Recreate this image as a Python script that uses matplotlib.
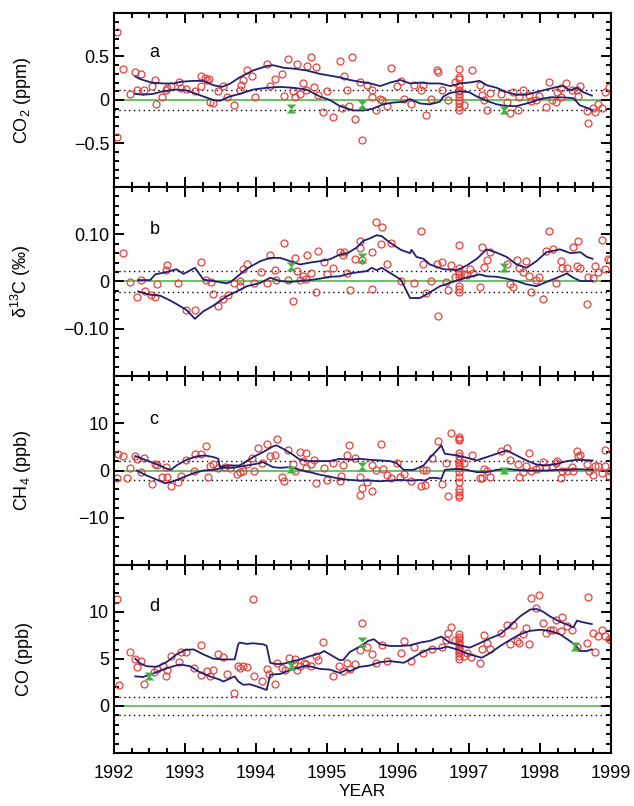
import numpy as np
import matplotlib
matplotlib.use('Agg')
import matplotlib.pyplot as plt
from matplotlib.ticker import MultipleLocator

plt.rcParams['font.family'] = ['Liberation Sans', 'DejaVu Sans']
plt.rcParams['mathtext.fontset'] = 'custom'
plt.rcParams['mathtext.rm'] = 'Liberation Sans'

# ---------------- 数据 ----------------
# 簇状采样点 (1996.86)
clu = 1996.86

# a: CO2 (ppm)
co2_x = [1992.04, 1992.04, 1992.12, 1992.22, 1992.30, 1992.33, 1992.38, 1992.42, 1992.53, 1992.58,
         1992.59, 1992.68, 1992.73, 1992.75, 1992.80, 1992.91, 1992.95, 1993.01, 1993.14, 1993.23,
         1993.23, 1993.28, 1993.31, 1993.34, 1993.35, 1993.40, 1993.47, 1993.54, 1993.59, 1993.69,
         1993.77, 1993.79, 1993.82, 1993.88, 1993.95, 1993.98, 1994.15, 1994.20, 1994.27, 1994.36,
         1994.40, 1994.45, 1994.52, 1994.55, 1994.58, 1994.62, 1994.66, 1994.71, 1994.72, 1994.77,
         1994.82, 1994.85, 1994.87, 1994.95, 1995.00, 1995.08, 1995.18, 1995.21, 1995.24, 1995.28,
         1995.31, 1995.35, 1995.40, 1995.46, 1995.50, 1995.57, 1995.63, 1995.63, 1995.69, 1995.75,
         1995.78, 1995.84, 1995.90, 1995.98, 1996.04, 1996.08, 1996.18, 1996.22, 1996.32, 1996.35,
         1996.40, 1996.47, 1996.55, 1996.56, 1996.62, 1996.70, 1996.80] + [clu] * 12 + [
         1996.93, 1997.04, 1997.15, 1997.18, 1997.21, 1997.26, 1997.29, 1997.45, 1997.53, 1997.58,
         1997.62, 1997.69, 1997.71, 1997.76, 1997.85, 1997.88, 1997.94, 1997.98, 1998.09, 1998.13,
         1998.17, 1998.23, 1998.24, 1998.29, 1998.30, 1998.37, 1998.45, 1998.52, 1998.53, 1998.57,
         1998.66, 1998.68, 1998.74, 1998.78, 1998.82, 1998.88, 1998.92, 1998.97]
co2_y = [0.78, -0.42, 0.36, 0.07, 0.32, 0.12, 0.30, 0.11, 0.16, 0.23,
         -0.05, 0.04, 0.12, 0.14, 0.16, 0.21, 0.14, 0.13, 0.10, 0.28,
         0.16, 0.25, 0.23, 0.24, -0.02, -0.04, 0.10, 0.16, 0.04, -0.06,
         0.12, 0.17, 0.23, 0.35, 0.27, 0.03, 0.41, 0.16, 0.24, 0.30,
         0.05, 0.47, 0.10, 0.04, 0.41, 0.07, 0.20, 0.11, 0.39, 0.49,
         0.15, 0.38, 0.06, -0.14, 0.10, -0.19, 0.45, -0.09, 0.27, 0.11,
         -0.07, 0.49, -0.22, 0.21, -0.46, 0.17, 0.12, 0.04, -0.11, 0.01,
         0.00, -0.07, 0.37, 0.16, 0.22, 0.01, -0.05, 0.17, 0.12, 0.17,
         -0.17, 0.01, 0.34, 0.32, 0.11, 0.00, 0.21,
         0.36, 0.26, 0.24, 0.16, 0.12, 0.10, 0.07, 0.03, 0.00, -0.04, -0.08, -0.11,
         -0.06, 0.34, 0.17, 0.06, 0.00, -0.11, 0.08, 0.07, -0.02, -0.15,
         0.09, -0.11, 0.03, 0.11, 0.06, -0.01, 0.00, 0.05, -0.08, 0.21,
         0.00, -0.02, 0.09, 0.14, 0.03, 0.19, 0.11, 0.11, 0.05, 0.16,
         -0.13, -0.26, -0.09, -0.14, -0.05, -0.09, 0.09, 0.15]
co2_up_x = [1992.30, 1992.37, 1992.53, 1992.69, 1992.84, 1992.95, 1993.12, 1993.26, 1993.40, 1993.52,
            1993.64, 1993.77, 1993.96, 1994.15, 1994.24, 1994.39, 1994.53, 1994.71, 1994.90, 1995.04,
            1995.18, 1995.32, 1995.46, 1995.61, 1995.75, 1995.89, 1996.03, 1996.17, 1996.31, 1996.45,
            1996.59, 1996.74, 1996.87, 1997.00, 1997.15, 1997.25, 1997.39, 1997.53, 1997.67, 1997.81,
            1997.95, 1998.09, 1998.24, 1998.33, 1998.42, 1998.52, 1998.61, 1998.73]
co2_up_y = [0.27, 0.24, 0.20, 0.19, 0.19, 0.21, 0.22, 0.22, 0.17, 0.15,
            0.19, 0.26, 0.34, 0.39, 0.40, 0.37, 0.36, 0.34, 0.30, 0.28,
            0.26, 0.23, 0.21, 0.19, 0.16, 0.20, 0.23, 0.19, 0.20, 0.19,
            0.19, 0.16, 0.19, 0.20, 0.22, 0.17, 0.14, 0.09, 0.06, 0.06,
            0.09, 0.12, 0.15, 0.16, 0.11, 0.14, 0.09, 0.05]
co2_lo_x = [1992.30, 1992.41, 1992.55, 1992.69, 1992.88, 1993.02, 1993.16, 1993.26, 1993.40, 1993.49,
            1993.63, 1993.77, 1993.96, 1994.15, 1994.34, 1994.53, 1994.71, 1994.90, 1995.04, 1995.18,
            1995.37, 1995.51, 1995.65, 1995.79, 1995.93, 1996.08, 1996.17, 1996.31, 1996.45, 1996.59,
            1996.64, 1996.73, 1996.87, 1997.00, 1997.11, 1997.25, 1997.39, 1997.53, 1997.67, 1997.86,
            1998.00, 1998.14, 1998.33, 1998.47, 1998.56, 1998.66, 1998.74]
co2_lo_y = [0.07, 0.06, 0.07, 0.10, 0.12, 0.11, 0.07, 0.04, 0.00, -0.01,
            0.04, 0.07, 0.12, 0.14, 0.15, 0.14, 0.12, 0.04, 0.00, -0.07,
            -0.12, -0.12, -0.10, -0.05, -0.03, -0.02, 0.01, -0.04, -0.05, -0.02,
            0.04, 0.08, 0.10, 0.09, 0.04, -0.01, -0.05, -0.07, -0.07, -0.03,
            0.01, 0.03, 0.03, 0.02, -0.06, -0.09, -0.12]
co2_g_x = [1994.5, 1995.5, 1997.5]
co2_g_hi = [-0.05, 0.0, -0.07]
co2_g_lo = [-0.15, -0.10, -0.16]

# b: d13C (permil)
d13_x = [1992.12, 1992.22, 1992.33, 1992.38, 1992.43, 1992.52, 1992.58, 1992.61, 1992.73, 1992.75,
         1992.90, 1993.01, 1993.14, 1993.23, 1993.30, 1993.36, 1993.40, 1993.47, 1993.54, 1993.60,
         1993.69, 1993.77, 1993.78, 1993.81, 1993.87, 1993.97, 1994.07, 1994.15, 1994.20, 1994.27,
         1994.28, 1994.40, 1994.45, 1994.52, 1994.55, 1994.58, 1994.62, 1994.66, 1994.71, 1994.72,
         1994.77, 1994.85, 1994.87, 1994.96, 1995.00, 1995.08, 1995.18, 1995.22, 1995.24, 1995.28,
         1995.32, 1995.40, 1995.46, 1995.46, 1995.50, 1995.63, 1995.64, 1995.69, 1995.76, 1995.78,
         1995.84, 1995.90, 1996.04, 1996.22, 1996.32, 1996.35, 1996.40, 1996.46, 1996.56, 1996.55,
         1996.62, 1996.68, 1996.70, 1996.75, 1996.80] + [clu] * 8 + [
         1996.93, 1996.97, 1997.01, 1997.05, 1997.15, 1997.18, 1997.21, 1997.26, 1997.29, 1997.53,
         1997.58, 1997.62, 1997.68, 1997.70, 1997.76, 1997.81, 1997.85, 1997.88, 1997.95, 1997.98,
         1998.04, 1998.09, 1998.13, 1998.18, 1998.23, 1998.29, 1998.31, 1998.38, 1998.46, 1998.52,
         1998.53, 1998.57, 1998.66, 1998.68, 1998.74, 1998.78, 1998.82, 1998.88, 1998.92, 1998.96,
         1998.99]
d13_y = [0.061, -0.001, -0.033, 0.003, -0.021, -0.028, -0.033, -0.006, 0.024, 0.034,
         -0.003, -0.061, -0.060, 0.041, 0.004, -0.001, -0.026, -0.052, -0.037, -0.028,
         -0.004, 0.001, -0.009, 0.027, 0.036, -0.004, 0.020, -0.004, 0.056, 0.024,
         0.003, 0.081, 0.004, -0.042, 0.050, 0.022, 0.003, 0.011, 0.006, 0.057,
         0.018, -0.023, 0.065, 0.041, 0.015, 0.028, 0.062, 0.057, 0.062, 0.017,
         -0.018, 0.047, 0.086, 0.070, 0.045, -0.016, 0.063, 0.126, 0.080, 0.116,
         0.038, 0.081, 0.001, -0.004, 0.107, 0.038, -0.024, 0.002, -0.072, 0.038,
         0.041, -0.001, -0.017, 0.034, 0.010,
         0.077, 0.029, 0.020, 0.015, 0.010, -0.009, -0.016, -0.023,
         0.015, 0.013, 0.027, 0.017, -0.011, 0.074, 0.031, 0.045, 0.062, 0.038,
         -0.006, -0.011, 0.045, 0.029, 0.020, 0.043, 0.011, -0.023, 0.003, 0.010,
         -0.038, 0.065, 0.107, 0.068, -0.004, 0.043, 0.029, 0.029, 0.072, 0.033,
         0.086, 0.029, -0.047, 0.010, 0.008, 0.033, 0.020, 0.087, 0.026, 0.048,
         0.045]
d13_up_x = [1992.34, 1992.51, 1992.58, 1992.74, 1992.88, 1992.98, 1993.14, 1993.26, 1993.40, 1993.59,
            1993.66, 1993.87, 1994.06, 1994.20, 1994.34, 1994.48, 1994.62, 1994.76,
            1994.90, 1995.04, 1995.18, 1995.28, 1995.42, 1995.51, 1995.60, 1995.70, 1995.77, 1995.89,
            1996.04, 1996.17, 1996.19, 1996.26, 1996.36, 1996.45, 1996.64, 1996.83, 1996.97, 1997.11,
            1997.25, 1997.39, 1997.53, 1997.67, 1997.81, 1997.95, 1998.09, 1998.28, 1998.43, 1998.57,
            1998.66, 1998.74]
d13_up_y = [0.003, 0.003, 0.015, 0.020, 0.026, 0.016, 0.029, 0.004, 0.001, -0.004,
            0.001, 0.027, 0.043, 0.050, 0.050, 0.043, 0.036, 0.040,
            0.043, 0.047, 0.057, 0.059, 0.072, 0.086, 0.091, 0.098, 0.096, 0.082,
            0.067, 0.060, 0.067, 0.052, 0.048, 0.036, 0.026, 0.024, 0.034, 0.048,
            0.068, 0.061, 0.052, 0.036, 0.029, 0.043, 0.062, 0.068, 0.060, 0.062,
            0.052, 0.048]
d13_lo_x = [1992.34, 1992.51, 1992.65, 1992.79, 1992.93, 1993.02, 1993.14, 1993.26, 1993.40, 1993.59,
            1993.73, 1993.87, 1994.06, 1994.15, 1994.20, 1994.34, 1994.48, 1994.62, 1994.76, 1994.90,
            1995.04, 1995.18, 1995.32, 1995.46, 1995.56, 1995.63, 1995.70, 1995.77, 1995.89, 1996.04,
            1996.17, 1996.31, 1996.45, 1996.59, 1996.73, 1996.87, 1997.01, 1997.15, 1997.25, 1997.39,
            1997.53, 1997.67, 1997.81, 1997.95, 1998.09, 1998.24, 1998.38, 1998.47, 1998.57, 1998.74]
d13_lo_y = [-0.021, -0.028, -0.030, -0.040, -0.052, -0.060, -0.079, -0.063, -0.051, -0.031,
            -0.021, -0.010, -0.003, 0.004, 0.008, 0.001, -0.001, 0.001, 0.003, 0.006,
            0.010, 0.011, 0.017, 0.020, 0.022, 0.029, 0.024, 0.029, 0.018, 0.004,
            -0.035, -0.035, -0.023, -0.010, -0.003, 0.004, 0.010, 0.015, 0.011, 0.010,
            0.006, 0.001, -0.006, -0.010, -0.001, 0.008, 0.017, 0.008, 0.001, 0.001]
d13_g_x = [1994.5, 1995.5, 1997.5]
d13_g_hi = [0.042, 0.060, 0.040]
d13_g_lo = [0.023, 0.040, 0.021]

# c: CH4 (ppb)
ch4_x = [1992.04, 1992.06, 1992.12, 1992.18, 1992.22, 1992.30, 1992.33, 1992.38, 1992.42, 1992.53,
         1992.58, 1992.61, 1992.67, 1992.73, 1992.75, 1992.80, 1992.90, 1992.95, 1993.01, 1993.12,
         1993.14, 1993.22, 1993.29, 1993.33, 1993.35, 1993.40, 1993.47, 1993.56, 1993.64, 1993.73,
         1993.77, 1993.81, 1993.88, 1993.95, 1993.97, 1994.03, 1994.08, 1994.15, 1994.20, 1994.27,
         1994.29, 1994.36, 1994.40, 1994.45, 1994.52, 1994.55, 1994.62, 1994.66, 1994.71, 1994.71,
         1994.78, 1994.81, 1994.85, 1994.96, 1995.00, 1995.08, 1995.18, 1995.20, 1995.23, 1995.28,
         1995.31, 1995.39, 1995.46, 1995.46, 1995.50, 1995.57, 1995.63, 1995.63, 1995.69, 1995.76,
         1995.79, 1995.84, 1995.90, 1995.98, 1996.03, 1996.08, 1996.18, 1996.32, 1996.35, 1996.38,
         1996.40, 1996.48, 1996.56, 1996.62, 1996.68, 1996.70, 1996.75] + [clu] * 16 + [
         1996.93, 1997.04, 1997.15, 1997.18, 1997.21, 1997.25, 1997.29, 1997.45, 1997.53, 1997.58,
         1997.69, 1997.71, 1997.76, 1997.81, 1997.85, 1997.88, 1997.94, 1997.98, 1998.04, 1998.09,
         1998.17, 1998.23, 1998.24, 1998.29, 1998.31, 1998.38, 1998.45, 1998.46, 1998.52, 1998.53,
         1998.57, 1998.66, 1998.69, 1998.74, 1998.78, 1998.82, 1998.87, 1998.92, 1998.92, 1998.97,
         1998.99]
ch4_y = [-1.56, 3.55, 3.05, -1.56, 0.57, 2.98, 2.34, -0.35, 2.70, -2.84,
         1.28, 1.06, -1.28, 0.71, -1.28, -3.26, -2.48, -1.06, 2.13, -0.21,
         3.55, 3.55, 5.11, -1.42, 0.85, 1.28, 0.57, 0.71, 0.57, -0.71,
         -0.35, -0.14, 1.28, 2.70, -0.14, 4.82, 1.56, 5.53, 2.98, 3.19,
         6.74, -1.28, -2.13, 4.26, 1.42, 0.00, 3.90, 1.99, 3.69, 0.57,
         1.42, 2.27, -2.70, 0.50, -1.99, 1.63, -2.13, -1.06, 1.21, 3.19,
         5.32, 2.62, -5.11, -1.42, -3.69, -2.34, 1.06, -4.40, 0.21, 5.67,
         0.35, -0.85, -1.56, 1.63, -1.28, -0.71, -2.27, -3.19, 0.21, -2.98,
         0.14, 2.70, 6.24, -2.84, 1.63, -5.46, 8.01,
         7.09, 6.74, 6.52, 3.76, 2.98, 2.13, 1.56, 1.06, 0.57, -0.35, -1.42, -2.48, -3.90, -4.61, -5.11, -5.53,
         1.56, 3.33, -1.56, -1.56, 0.35, 0.00, -1.28, 4.11, 4.75, 2.13,
         1.42, -1.42, -0.35, 0.85, 3.69, 0.00, 0.35, 0.57, 1.77, 0.71,
         0.71, 1.56, 1.99, -1.56, 0.00, 0.00, 0.71, 0.00, 4.11, 2.98,
         3.19, 1.28, 0.00, -0.85, 0.85, 0.85, -0.57, 0.85, 4.26, -1.06,
         0.00]
ch4_up_x = [1992.30, 1992.46, 1992.61, 1992.75, 1992.80, 1992.88, 1993.02, 1993.16, 1993.28, 1993.40,
            1993.47, 1993.49, 1993.59, 1993.77, 1993.96, 1994.10, 1994.24, 1994.29, 1994.38, 1994.50,
            1994.62, 1994.76, 1994.90, 1995.04, 1995.18, 1995.32, 1995.46, 1995.60, 1995.75, 1995.89,
            1995.98, 1996.08, 1996.22, 1996.36, 1996.45, 1996.54, 1996.61, 1996.66, 1996.83, 1996.97,
            1997.11, 1997.25, 1997.39, 1997.53, 1997.67, 1997.81, 1997.95, 1998.09, 1998.24, 1998.38,
            1998.52, 1998.74]
ch4_up_y = [3.05, 2.13, 1.28, 0.35, 0.14, 1.06, 2.27, 2.98, 3.19, 2.84,
            2.48, 0.71, 1.06, 1.06, 2.84, 3.90, 5.11, 5.32, 4.61, 3.55,
            2.27, 1.99, 1.99, 1.99, 2.48, 2.27, 2.48, 2.27, 2.13, 1.99,
            1.56, 0.14, 0.14, 1.06, 2.70, 4.11, 5.32, 3.55, 3.19, 2.70,
            2.13, 2.84, 3.55, 4.26, 3.19, 2.13, 1.28, 1.06, 1.42, 1.99,
            2.27, 2.13]
ch4_lo_x = [1992.32, 1992.46, 1992.61, 1992.72, 1992.84, 1992.98, 1993.12, 1993.26, 1993.40, 1993.54,
            1993.68, 1993.87, 1994.01, 1994.10, 1994.24, 1994.34, 1994.48, 1994.62, 1994.76, 1994.90,
            1995.04, 1995.18, 1995.32, 1995.46, 1995.60, 1995.75, 1995.89, 1996.03, 1996.17, 1996.31,
            1996.38, 1996.45, 1996.54, 1996.61, 1996.66, 1996.83, 1996.97, 1997.11, 1997.25, 1997.39,
            1997.53, 1997.67, 1997.81, 1997.95, 1998.09, 1998.24, 1998.38, 1998.52, 1998.74]
ch4_lo_y = [0.00, -1.06, -1.99, -2.70, -2.27, -1.42, -0.57, 0.00, 0.14, 0.57,
            0.57, 1.06, 1.42, 1.77, 0.71, 0.57, 0.71, 0.14, -0.35, -0.90,
            -1.28, -1.77, -1.99, -2.13, -2.13, -2.27, -2.13, -1.99, -2.13, -1.99,
            -2.13, -1.56, -1.56, -1.77, 0.14, 0.35, 0.14, -0.35, -0.35, 0.14,
            0.35, 0.14, 0.00, 0.00, 0.00, 0.14, 0.14, 0.28, 0.14]
ch4_g_x = [1994.5, 1995.5, 1997.5]
ch4_g_hi = [1.0, 1.7, 0.8]
ch4_g_lo = [-0.6, 0.0, -0.8]

# d: CO (ppb)
co_x = [1992.04, 1992.07, 1992.22, 1992.30, 1992.33, 1992.38, 1992.42, 1992.56, 1992.61, 1992.69,
        1992.73, 1992.74, 1992.80, 1992.91, 1992.95, 1993.01, 1993.12, 1993.23, 1993.23, 1993.31,
        1993.35, 1993.40, 1993.47, 1993.54, 1993.59, 1993.69, 1993.75, 1993.78, 1993.82, 1993.88,
        1993.96, 1993.97, 1994.08, 1994.15, 1994.19, 1994.27, 1994.29, 1994.36, 1994.41, 1994.46,
        1994.53, 1994.55, 1994.58, 1994.62, 1994.67, 1994.71, 1994.78, 1994.85, 1994.88, 1994.95,
        1995.08, 1995.17, 1995.23, 1995.28, 1995.32, 1995.40, 1995.46, 1995.50, 1995.57, 1995.63,
        1995.69, 1995.78, 1995.84, 1996.04, 1996.08, 1996.18, 1996.22, 1996.35, 1996.48, 1996.62,
        1996.68, 1996.70, 1996.75, 1996.80] + [clu] * 11 + [
        1996.93, 1996.97, 1997.03, 1997.15, 1997.18, 1997.21, 1997.26, 1997.29, 1997.45, 1997.53,
        1997.58, 1997.62, 1997.68, 1997.71, 1997.76, 1997.81, 1997.85, 1997.87, 1997.95, 1997.98,
        1998.04, 1998.09, 1998.14, 1998.18, 1998.23, 1998.29, 1998.31, 1998.38, 1998.45, 1998.52,
        1998.66, 1998.68, 1998.74, 1998.78, 1998.82, 1998.88, 1998.92, 1998.97, 1999.00]
co_y = [11.33, 2.19, 5.73, 5.02, 4.12, 4.77, 2.37, 3.58, 3.94, 4.30,
        3.23, 3.87, 5.30, 4.66, 5.73, 5.73, 4.05, 6.45, 3.33, 3.69,
        3.23, 3.80, 5.48, 5.20, 3.44, 1.36, 4.30, 4.05, 4.23, 4.16,
        11.33, 3.23, 2.62, 3.94, 3.44, 2.33, 4.52, 4.05, 3.87, 5.13,
        4.59, 4.95, 3.87, 4.30, 4.59, 4.41, 4.30, 5.30, 4.87, 6.85,
        3.15, 4.30, 3.69, 4.59, 3.94, 4.41, 5.95, 8.78, 6.31, 5.56,
        4.52, 6.49, 4.77, 5.66, 6.92, 4.77, 6.31, 5.59, 6.09, 6.31,
        6.99, 7.74, 8.35, 7.03,
        7.63, 7.38, 7.10, 6.81, 6.56, 6.31, 6.09, 5.84, 5.59, 5.30, 5.02,
        5.30, 5.59, 5.23, 4.52, 6.02, 7.53, 6.67, 6.02, 7.71, 8.60,
        6.56, 8.60, 6.92, 6.67, 7.63, 8.24, 6.56, 11.51, 10.39, 11.83,
        8.78, 7.81, 8.06, 8.06, 9.14, 7.99, 9.43, 8.46, 8.10, 6.31,
        6.67, 11.58, 7.74, 5.77, 7.46, 8.10, 7.46, 7.17, 7.03]
co_up_x = [1992.30, 1992.37, 1992.46, 1992.60, 1992.74, 1992.88, 1993.00, 1993.12, 1993.26, 1993.40,
           1993.54, 1993.70, 1993.75, 1993.77, 1993.87, 1993.96, 1994.10, 1994.15, 1994.20, 1994.29,
           1994.38, 1994.48, 1994.62, 1994.76, 1994.90, 1994.96, 1995.04, 1995.18, 1995.23, 1995.32,
           1995.46, 1995.58, 1995.66, 1995.75, 1995.89, 1996.03, 1996.17, 1996.31, 1996.45, 1996.61,
           1996.73, 1996.87, 1997.01, 1997.15, 1997.29, 1997.44, 1997.58, 1997.72, 1997.86, 1997.95,
           1998.04, 1998.14, 1998.28, 1998.42, 1998.47, 1998.52, 1998.61, 1998.73]
co_up_y = [5.02, 4.52, 4.23, 4.16, 4.66, 5.48, 5.95, 6.02, 5.48, 5.02,
           4.95, 4.95, 6.56, 6.74, 6.60, 6.67, 6.56, 6.40, 4.59, 4.45,
           4.48, 4.66, 4.95, 5.30, 5.59, 5.84, 5.48, 4.87, 4.90, 5.73,
           6.31, 6.92, 7.10, 6.56, 6.38, 6.38, 6.45, 6.74, 6.92, 7.38,
           6.74, 6.45, 6.20, 6.67, 7.17, 7.63, 8.53, 9.53, 10.25, 10.32,
           10.04, 9.53, 8.96, 8.53, 8.35, 9.07, 8.89, 8.71]
co_lo_x = [1992.30, 1992.41, 1992.55, 1992.69, 1992.84, 1992.93, 1993.07, 1993.21, 1993.35, 1993.49,
           1993.54, 1993.63, 1993.70, 1993.75, 1993.82, 1993.92, 1994.06, 1994.15, 1994.20, 1994.34,
           1994.50, 1994.62, 1994.71, 1994.90, 1995.04, 1995.18, 1995.28, 1995.32, 1995.46, 1995.60,
           1995.75, 1995.89, 1996.08, 1996.17, 1996.31, 1996.45, 1996.59, 1996.69, 1996.83, 1997.01,
           1997.18, 1997.29, 1997.44, 1997.58, 1997.72, 1997.86, 1998.00, 1998.14, 1998.28, 1998.42,
           1998.52, 1998.56, 1998.66, 1998.73]
co_lo_y = [3.15, 3.08, 3.44, 3.87, 4.23, 4.41, 4.23, 3.58, 3.15, 2.80,
           2.60, 2.90, 3.15, 2.61, 2.26, 2.30, 1.95, 1.70, 3.33, 3.40,
           3.87, 4.10, 4.30, 3.94, 3.87, 3.51, 3.87, 3.69, 4.16, 4.30,
           4.66, 4.77, 4.59, 4.95, 5.59, 6.09, 6.09, 6.31, 6.02, 5.48,
           5.13, 5.59, 6.38, 7.03, 7.63, 7.99, 8.10, 7.99, 7.63, 6.92,
           6.31, 5.84, 5.84, 6.02]
co_g_x = [1992.5, 1994.5, 1995.5, 1998.5]
co_g_hi = [3.6, 4.7, 7.3, 6.8]
co_g_lo = [2.8, 3.8, 6.3, 5.8]

# ---------------- 绘图 ----------------
red = '#e8413c'
navy = '#202070'
green = '#3cb43c'
# 沙漏形标记: 上半为倒三角(顶边在数据点), 下半为正三角(底边在数据点)
tri_dn = [(-1, 0), (1, 0), (0, -1), (-1, 0)]
tri_up = [(-1, 0), (1, 0), (0, 1), (-1, 0)]

panels = [
    dict(px=co2_x, py=co2_y, ux=co2_up_x, uy=co2_up_y, lx=co2_lo_x, ly=co2_lo_y,
         gx=co2_g_x, ghi=co2_g_hi, glo=co2_g_lo, ylim=(-1, 1), dot=0.12,
         ticks=[-0.5, 0, 0.5], labels=['\u22120.5', '0', '0.5'], minor=0.1,
         ylabel='CO$_2$ (ppm)', letter='a', ly_=0.55, pos=[0.1798, 0.768, 0.7839, 0.2159]),
    dict(px=d13_x, py=d13_y, ux=d13_up_x, uy=d13_up_y, lx=d13_lo_x, ly=d13_lo_y,
         gx=d13_g_x, ghi=d13_g_hi, glo=d13_g_lo, ylim=(-0.2, 0.2), dot=0.022,
         ticks=[-0.1, 0, 0.1], labels=['\u22120.10', '0', '0.10'], minor=0.02,
         ylabel='\u03b4$^{13}$C (\u2030)', letter='b', ly_=0.11, pos=[0.1798, 0.5335, 0.7839, 0.2345]),
    dict(px=ch4_x, py=ch4_y, ux=ch4_up_x, uy=ch4_up_y, lx=ch4_lo_x, ly=ch4_lo_y,
         gx=ch4_g_x, ghi=ch4_g_hi, glo=ch4_g_lo, ylim=(-20, 20), dot=2.0,
         ticks=[-10, 0, 10], labels=['\u221210', '0', '10'], minor=2,
         ylabel='CH$_4$ (ppb)', letter='c', ly_=10.8, pos=[0.1798, 0.299, 0.7839, 0.2345]),
    dict(px=co_x, py=co_y, ux=co_up_x, uy=co_up_y, lx=co_lo_x, ly=co_lo_y,
         gx=co_g_x, ghi=co_g_hi, glo=co_g_lo, ylim=(-5, 15), dot=1.0,
         ticks=[0, 5, 10], labels=['0', '5', '10'], minor=1,
         ylabel='CO (ppb)', letter='d', ly_=10.6, pos=[0.1798, 0.0658, 0.7839, 0.2333]),
]

fig = plt.figure(figsize=(6.34, 8.06), dpi=100)

for i, p in enumerate(panels):
    ax = fig.add_axes(p['pos'])
    ax.axhline(0, color=green, lw=1.1, zorder=1)
    for s in (1, -1):
        ax.axhline(s * p['dot'], color='black', lw=1.0, ls=(0, (1, 2.5)), zorder=1)
    ax.plot(p['px'], p['py'], 'o', ms=5, mfc='none', mec=red, mew=0.9, zorder=2)
    ax.plot(p['ux'], p['uy'], color=navy, lw=1.3, zorder=3)
    ax.plot(p['lx'], p['ly'], color=navy, lw=1.3, zorder=3)
    ax.plot(p['gx'], p['ghi'], ls='none', marker=tri_dn, ms=7, color=green, mew=0, zorder=4)
    ax.plot(p['gx'], p['glo'], ls='none', marker=tri_up, ms=7, color=green, mew=0, zorder=4)

    ax.set_xlim(1992, 1999)
    ax.set_ylim(*p['ylim'])
    ax.set_yticks(p['ticks'], p['labels'])
    ax.yaxis.set_minor_locator(MultipleLocator(p['minor']))
    ax.xaxis.set_major_locator(MultipleLocator(1))
    ax.xaxis.set_minor_locator(MultipleLocator(0.25))
    ax.tick_params(which='both', direction='in', top=True, right=True, width=1.4)
    ax.tick_params(which='major', length=7.5, labelsize=13)
    ax.tick_params(which='minor', length=3.8)
    for sp in ax.spines.values():
        sp.set_linewidth(1.5)
    ax.set_ylabel(p['ylabel'], fontsize=13)
    ax.yaxis.set_label_coords(-0.163, 0.5)
    ax.text(1992.5, p['ly_'], p['letter'], fontsize=13, va='center')
    if i < 3:
        ax.tick_params(labelbottom=False)
    else:
        ax.set_xticks(np.arange(1992, 2000), [str(y) for y in range(1992, 2000)])
        ax.set_xlabel('YEAR', fontsize=12.5, labelpad=1)
        ax.tick_params(axis='x', pad=9)

fig.savefig('out.png', dpi=100)
